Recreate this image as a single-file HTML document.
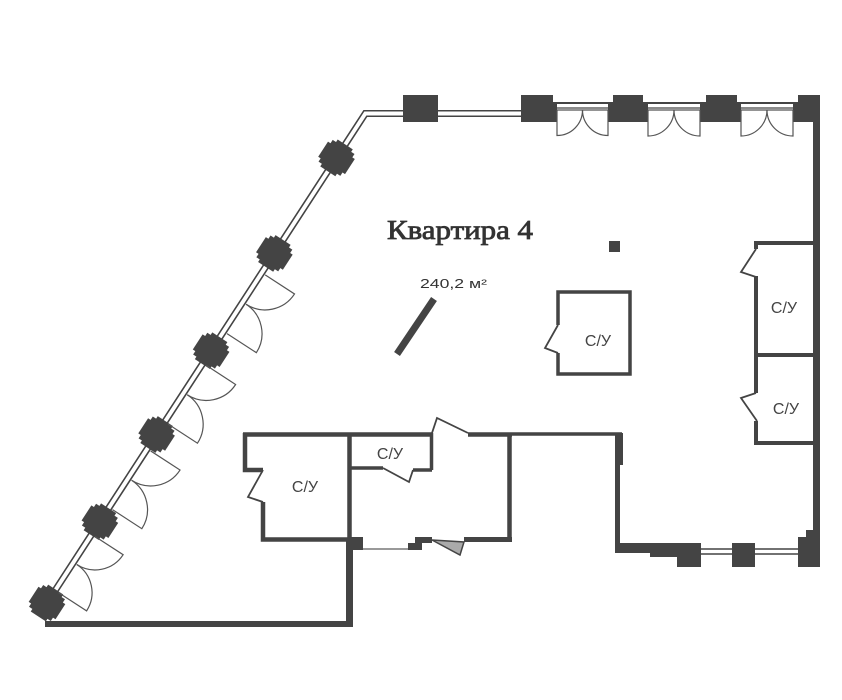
<!DOCTYPE html>
<html><head><meta charset="utf-8"><style>
html,body{margin:0;padding:0;background:#fff;}
svg{display:block;}
</style></head><body>
<svg width="842" height="700" viewBox="0 0 842 700" xmlns="http://www.w3.org/2000/svg">
<rect width="842" height="700" fill="#fff"/>

<!-- diagonal + top-left window double lines -->
<g stroke="#444" fill="none" stroke-width="1.6">
  <polyline points="44.7,601.5 363.9,110.75 521,110.75"/>
  <polyline points="49.3,604.5 366.8,116.25 521,116.25"/>
  <line x1="553" y1="103" x2="800" y2="103" stroke-width="2"/>
  <line x1="553" y1="108" x2="800" y2="108" stroke-width="1.2"/>
</g>

<!-- diagonal columns and doors -->
<g transform="translate(47,603) rotate(-56.96)">
  <g fill="#444">
    <rect x="-13" y="-13" width="26" height="26"/><rect x="-9" y="-16" width="18" height="32"/><rect x="-16" y="-9" width="32" height="18"/>
    <rect x="84" y="-13" width="26" height="26"/><rect x="88" y="-16" width="18" height="32"/><rect x="81" y="-9" width="32" height="18"/>
    <rect x="188" y="-13" width="26" height="26"/><rect x="192" y="-16" width="18" height="32"/><rect x="185" y="-9" width="32" height="18"/>
    <rect x="288" y="-13" width="26" height="26"/><rect x="292" y="-16" width="18" height="32"/><rect x="285" y="-9" width="32" height="18"/>
    <rect x="404" y="-13" width="26" height="26"/><rect x="408" y="-16" width="18" height="32"/><rect x="401" y="-9" width="32" height="18"/>
    <rect x="518" y="-13" width="26" height="26"/><rect x="522" y="-16" width="18" height="32"/><rect x="515" y="-9" width="32" height="18"/>
  </g>
  <g stroke="#555" fill="none" stroke-width="1.2">
    <path d="M15,4 V37.5 A33.5 33.5 0 0 0 48.5,4"/>
    <path d="M82,4 V37.5 A33.5 33.5 0 0 1 48.5,4"/>
    <path d="M114,4 V39 A35 35 0 0 0 149,4"/>
    <path d="M184,4 V39 A35 35 0 0 1 149,4"/>
    <path d="M216,4 V39 A35 35 0 0 0 251,4"/>
    <path d="M286,4 V39 A35 35 0 0 1 251,4"/>
    <path d="M324,4 V39 A35 35 0 0 0 359,4"/>
    <path d="M394,4 V39 A35 35 0 0 1 359,4"/>
  </g>
</g>

<!-- top columns -->
<g fill="#444">
  <rect x="403" y="95" width="35" height="27"/>
  <rect x="521" y="95" width="32" height="27"/><rect x="521" y="103" width="36" height="19"/>
  <rect x="613" y="95" width="30" height="10"/><rect x="608" y="103" width="40" height="19"/>
  <rect x="706" y="95" width="31" height="10"/><rect x="700" y="103" width="41" height="19"/>
  <rect x="798" y="95" width="22" height="27"/><rect x="793" y="103" width="27" height="19"/>
  <!-- right wall -->
  <rect x="813" y="95" width="7" height="472"/>
</g>

<!-- top doors -->
<g stroke="#555" fill="none" stroke-width="1.2">
  <line x1="557" y1="110" x2="608" y2="110"/>
  <path d="M557,110 V135.5 A25.5 25.5 0 0 0 582.5,110"/>
  <path d="M608,110 V135.5 A25.5 25.5 0 0 1 582.5,110"/>
  <line x1="648" y1="110" x2="700" y2="110"/>
  <path d="M648,110 V136 A26 26 0 0 0 674,110"/>
  <path d="M700,110 V136 A26 26 0 0 1 674,110"/>
  <line x1="741" y1="110" x2="793" y2="110"/>
  <path d="M741,110 V136 A26 26 0 0 0 767,110"/>
  <path d="M793,110 V136 A26 26 0 0 1 767,110"/>
</g>

<!-- right S/U rooms -->
<g stroke="#444" fill="none" stroke-width="4">
  <path d="M815,243 H756 V249"/>
  <path d="M756,276 V393"/>
  <path d="M756,421 V443 H815"/>
  <path d="M756,355 H815"/>
</g>
<g stroke="#444" fill="none" stroke-width="1.8">
  <path d="M756,249 L741,272 L756,277"/>
  <path d="M756,393 L741,398 L757,421"/>
</g>

<!-- middle S/U -->
<g stroke="#444" fill="none" stroke-width="3.5">
  <path d="M558,325 V292 H630 V374 H558 V353"/>
</g>
<path d="M558,325 L545,348 L558,353" stroke="#444" fill="none" stroke-width="1.8"/>
<rect x="609" y="241" width="11" height="11" fill="#444"/>

<!-- diagonal bar -->
<line x1="397" y1="354" x2="434" y2="299" stroke="#444" stroke-width="7"/>

<!-- bottom middle block -->
<g stroke="#444" fill="none" stroke-width="4.5">
  <path d="M243,434.5 H432"/>
  <path d="M245,433 V470 H263"/>
  <path d="M263,502 V539.5 H350"/>
  <path d="M349.5,433 V540"/>
  <path d="M468,434.5 H512"/>
  <path d="M509.5,433 V542"/>
</g>
<g stroke="#444" fill="none" stroke-width="3.5">
  <path d="M512,434 H622"/>
  <path d="M431.5,433 V470"/>
  <path d="M350,468 H383"/>
  <path d="M413,470 H432"/>
</g>
<g stroke="#444" fill="none" stroke-width="1.8">
  <path d="M263,470 L248,497 L263,502"/>
  <path d="M383,468 L409,482 L413,470"/>
  <path d="M432,433 L437,418 L468,433"/>
</g>
<g fill="#444">
  <rect x="346" y="540" width="7" height="87"/>
  <rect x="45" y="621" width="308" height="6"/>
  <rect x="348" y="537" width="15" height="13"/>
  <rect x="408" y="543" width="14" height="7"/>
  <rect x="415" y="537" width="17" height="6"/>
  <rect x="464" y="537" width="48" height="5"/>
</g>
<line x1="363" y1="549" x2="408" y2="549" stroke="#999" stroke-width="2"/>
<polygon points="432,540 460,555 464,542" fill="#aaa" stroke="#444" stroke-width="1.5"/>

<!-- bottom right -->
<g fill="#444">
  <rect x="615" y="433" width="8" height="32"/>
  <rect x="615" y="433" width="5" height="120"/>
  <rect x="615" y="543" width="85" height="10"/>
  <rect x="650" y="553" width="50" height="4"/>
  <rect x="677" y="543" width="24" height="24"/>
  <rect x="732" y="543" width="23" height="24"/>
  <rect x="798" y="537" width="22" height="30"/>
  <rect x="806" y="530" width="14" height="10"/>
</g>
<g stroke="#444" stroke-width="1.4" fill="none">
  <line x1="701" y1="549" x2="732" y2="549"/>
  <line x1="701" y1="554" x2="732" y2="554"/>
  <line x1="755" y1="549" x2="798" y2="549"/>
  <line x1="755" y1="554" x2="798" y2="554"/>
</g>

<!-- texts -->
<text x="387" y="239" font-family="'Liberation Serif', serif" font-size="27" fill="#333" stroke="#333" stroke-width="0.8" textLength="146" lengthAdjust="spacingAndGlyphs">Квартира 4</text>
<text x="420" y="288" font-family="'Liberation Sans', sans-serif" font-size="13" fill="#333" textLength="67" lengthAdjust="spacingAndGlyphs">240,2 м²</text>
<g font-family="'Liberation Sans', 'DejaVu Sans', sans-serif" font-size="16" fill="#444" text-anchor="middle">
  <text x="305" y="492">С/У</text>
  <text x="390" y="459">С/У</text>
  <text x="598" y="346">С/У</text>
  <text x="784" y="313">С/У</text>
  <text x="786" y="414">С/У</text>
</g>
</svg>
</body></html>
